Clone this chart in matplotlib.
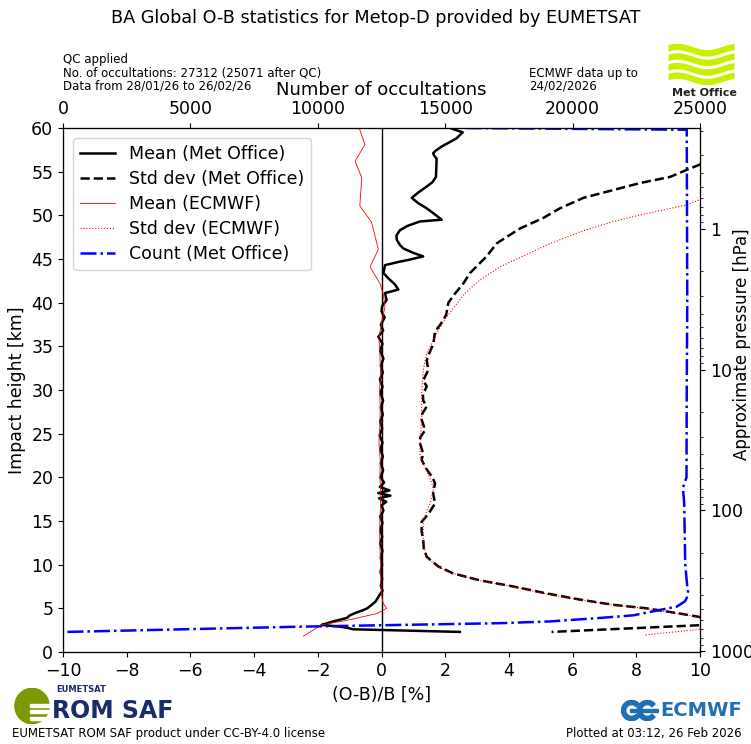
import numpy as np
import matplotlib.pyplot as plt
from matplotlib.patches import Wedge, Ellipse, Rectangle
from matplotlib.ticker import FixedLocator, FuncFormatter, LogLocator, NullFormatter

# Mean (Met Office), O-B/B [%] against impact height [km]
mo_mean_z = [60.0, 59.5, 58.8, 57.9, 57.4, 57.1, 56.8, 56.5, 55.4, 54.4, 53.8, 53.3, 52.6,
             52.0, 51.4, 50.8, 50.1, 49.5, 49.3, 48.8, 48.3, 47.7, 47.2, 46.6, 46.2, 45.7,
             45.3, 44.9, 44.7, 44.3, 43.4, 42.8, 42.1, 41.5, 41.1, 40.3, 39.6, 39.0,
             38.3, 37.5, 36.8, 36.1, 35.3, 34.5, 33.6, 32.8, 32.0, 31.2, 30.4, 29.6, 28.8,
             28.0, 27.2, 26.4, 25.6, 24.8, 24.0, 23.2, 22.4, 21.6, 20.8, 20.0, 19.4, 18.9,
             18.5, 18.2, 17.9, 17.6, 17.2, 16.8, 16.2, 15.5, 14.8, 14.0, 13.2, 12.4, 11.6,
             10.8, 10.0, 9.2, 8.4, 7.6, 7.0, 6.6, 6.3, 5.8, 5.4, 5.0, 4.8, 4.5, 4.2, 3.9,
             3.7, 3.5, 3.3, 3.1, 2.9, 2.75, 2.6, 2.3]
mo_mean = [2.15, 2.55, 2.35, 1.9, 1.7, 1.62, 1.66, 1.73, 1.72, 1.71, 1.6, 1.42, 1.15,
           0.95, 1.15, 1.42, 1.68, 1.89, 1.21, 0.82, 0.58, 0.47, 0.48, 0.58, 0.69, 1.0,
           1.31, 0.85, 0.58, 0.11, 0.06, 0.21, 0.42, 0.53, 0.11, 0.16, 0.02, 0.0,
           0.10, -0.02, 0.05, -0.10, 0.03, -0.04, 0.06, -0.02, 0.04, -0.05, 0.03, -0.03, 0.05,
           -0.02, 0.04, -0.04, 0.02, -0.06, 0.03, -0.03, 0.04, -0.02, 0.05, -0.03, 0.08, -0.05,
           0.25, -0.10, 0.28, -0.08, 0.15, 0.0, 0.06, -0.04, 0.03, -0.03, 0.02, -0.04, 0.03,
           -0.02, 0.02, -0.03, 0.02, -0.02, 0.03, -0.05, -0.10, -0.18, -0.31, -0.45, -0.57,
           -0.80, -0.99, -1.09, -1.30, -1.52, -1.70, -1.88, -1.30, -1.05, -0.89, 2.46]

# Std dev (Met Office)
mo_std_z = [57.0, 55.2, 54.4, 53.7, 52.9, 52.0, 50.8, 49.7, 48.5, 46.8, 45.3, 43.4, 42.2,
            41.0, 40.0, 38.6, 37.5, 36.7, 35.3, 34.2, 33.4, 32.3, 31.1, 30.4, 29.5, 28.8,
            28.1, 27.3, 26.6, 25.4, 24.6, 23.9, 22.7, 22.0, 21.0, 20.0, 19.3, 18.2, 17.0,
            15.8, 14.9, 13.8, 12.8, 11.8, 10.9, 9.8, 9.0, 8.2, 7.5, 6.7, 6.0, 5.4, 5.0, 4.4,
            4.0, 3.6, 3.07, 2.3]
mo_std = [10.8, 9.58, 9.06, 8.12, 7.28, 6.34, 5.60, 5.08, 4.35, 3.62, 3.30, 2.78, 2.57,
          2.30, 2.10, 2.03, 1.85, 1.68, 1.63, 1.50, 1.42, 1.47, 1.31, 1.42, 1.30, 1.31,
          1.42, 1.28, 1.26, 1.37, 1.22, 1.21, 1.31, 1.26, 1.40, 1.60, 1.68, 1.62, 1.68,
          1.47, 1.26, 1.26, 1.31, 1.33, 1.42, 1.78, 2.25, 3.09, 4.14, 5.19, 6.23, 7.28, 8.32,
          9.37, 10.0, 13.0, 10.0, 5.34]

# Mean (ECMWF)
ec_mean_z = [60.0, 58.1, 56.2, 54.3, 51.1, 49.2, 46.1, 44.1, 42.2, 40.9, 39.5, 38.0, 36.0,
             34.0, 32.0, 30.0, 28.0, 26.0, 24.0, 22.0, 20.0, 18.0, 16.0, 14.0, 12.0, 10.0,
             8.0, 6.5, 5.6, 5.0, 4.4, 3.7, 3.1, 1.8]
ec_mean = [-0.70, -0.52, -0.83, -0.62, -0.68, -0.31, -0.10, -0.36, -0.05, 0.06, 0.11, 0.02,
           -0.08, -0.05, -0.03, -0.06, -0.04, -0.05, -0.08, -0.04, -0.05, -0.02, -0.04, -0.06,
           -0.05, -0.03, -0.02, 0.0, 0.05, 0.16, -0.15, -0.99, -1.88, -2.46]

# Std dev (ECMWF)
ec_std_z = [57.0, 51.8, 51.2, 50.2, 49.3, 48.1, 46.6, 44.1, 42.6, 41.0, 38.4, 36.5, 34.2,
            32.3, 29.6, 27.0, 23.5, 22.4, 20.5, 19.3, 18.5, 17.0, 15.1, 12.8, 10.9, 9.8, 9.0,
            8.2, 7.5, 6.7, 6.0, 5.4, 5.0, 4.4, 4.0, 3.6, 2.6, 1.95]
ec_std = [13.0, 10.0, 9.58, 8.32, 7.28, 6.23, 5.19, 3.72, 3.09, 2.60, 2.05, 1.73, 1.42,
          1.31, 1.26, 1.26, 1.21, 1.21, 1.45, 1.58, 1.63, 1.52, 1.31, 1.31, 1.40, 1.75, 2.22,
          3.05, 4.08, 5.12, 6.15, 7.20, 8.25, 9.30, 9.95, 12.0, 10.0, 8.27]

# Count (Met Office), number of occultations
cnt_z = [60.0, 59.8, 50.0, 40.0, 30.0, 20.0, 18.8, 17.0, 10.0, 7.5, 7.1, 6.2, 5.8, 5.2,
         4.7, 4.2, 3.9, 3.5, 3.3, 3.1, 2.9, 2.3]
cnt = [15800, 24480, 24490, 24500, 24480, 24470, 24330, 24380, 24420, 24500, 24540, 24480,
       24410, 24090, 23230, 22385, 21080, 19110, 17150, 13230, 9300, 150]

x_ticks = [-10, -8, -6, -4, -2, 0, 2, 4, 6, 8, 10]
cnt_ticks = [0, 5000, 10000, 15000, 20000, 25000]
z_ticks = [0, 5, 10, 15, 20, 25, 30, 35, 40, 45, 50, 55, 60]
p_ticks = [1, 10, 100, 1000]

W, H = 751, 744
FS = 12.5


def fx(px):
    return px / W


def fy(py):
    return 1 - py / H


def z2p(z):
    return 1013.25 * np.exp(-np.asarray(z, dtype=float) / 7.0)


fig = plt.figure(figsize=(W / 100, H / 100), dpi=100)
ax = fig.add_axes([fx(63), fy(652), 637 / W, 524 / H])

ax.axvline(0, color='k', lw=1)
l1, = ax.plot(mo_mean, mo_mean_z, color='k', lw=1.8, label='Mean (Met Office)')
l2, = ax.plot(mo_std, mo_std_z, color='k', lw=1.8, ls='--', label='Std dev (Met Office)')
l3, = ax.plot(ec_mean, ec_mean_z, color='red', lw=0.6, label='Mean (ECMWF)')
l4, = ax.plot(ec_std, ec_std_z, color='red', lw=0.8, ls=':', label='Std dev (ECMWF)')
ax.set_xlim(-10, 10)
ax.set_ylim(0, 60)
ax.set_xticks(x_ticks)
ax.set_yticks(z_ticks)
ax.tick_params(labelsize=FS)
ax.set_xlabel('(O-B)/B [%]', fontsize=FS)
ax.set_ylabel('Impact height [km]', fontsize=FS)

ax_c = ax.twiny()
l5, = ax_c.plot(cnt, cnt_z, color='blue', lw=1.8, ls='-.', label='Count (Met Office)')
ax_c.set_xlim(0, 25000)
ax_c.set_xticks(cnt_ticks)
ax_c.tick_params(labelsize=FS)
ax_c.set_xlabel('Number of occultations', fontsize=13)

ax_p = ax.twinx()
ax_p.set_yscale('log')
ax_p.set_ylim(z2p(0), z2p(60))
ax_p.yaxis.set_major_locator(FixedLocator(p_ticks))
ax_p.yaxis.set_major_formatter(FuncFormatter(lambda v, pos: '%d' % v))
ax_p.yaxis.set_minor_locator(LogLocator(base=10, subs=np.arange(2, 10)))
ax_p.yaxis.set_minor_formatter(NullFormatter())
ax_p.tick_params(labelsize=FS)
ax_p.set_ylabel('Approximate pressure [hPa]', fontsize=12)
ax_p.yaxis.set_label_coords(1.052, 0.588)

ax_p.legend(handles=[l1, l2, l3, l4, l5], loc='upper left', fontsize=12.5,
            bbox_to_anchor=(0.0, 1.0), borderaxespad=0.6, labelspacing=0.4)

# header texts
fig.text(0.5, fy(18), 'BA Global O-B statistics for Metop-D provided by EUMETSAT',
         ha='center', va='center', fontsize=12.7)
fig.text(fx(63), fy(60), 'QC applied', fontsize=8.5, va='center')
fig.text(fx(63), fy(73), 'No. of occultations: 27312 (25071 after QC)', fontsize=8.5, va='center')
fig.text(fx(63), fy(86), 'Data from 28/01/26 to 26/02/26', fontsize=8.5, va='center')
fig.text(fx(529), fy(73), 'ECMWF data up to', fontsize=8.5, va='center')
fig.text(fx(529), fy(86), '24/02/2026', fontsize=8.5, va='center')

# footer texts
fig.text(fx(12), fy(733), 'EUMETSAT ROM SAF product under CC-BY-4.0 license', fontsize=8.5, va='center')
fig.text(fx(742), fy(733), 'Plotted at 03:12, 26 Feb 2026', fontsize=8.5, va='center', ha='right')

# Met Office logo
lg = fig.add_axes([fx(668), fy(84), 66 / W, 40 / H])
lg.set_xlim(0, 1)
lg.set_ylim(0, 1)
lg.axis('off')
xs = np.linspace(0, 1, 60)
for k in range(4):
    base = 0.06 + k * 0.24
    wave = base + 0.08 * np.sin(2 * np.pi * (xs * 1.1 + 0.1))
    lg.fill_between(xs, wave, wave + 0.16, color='#c8f000', lw=0)
fig.text(fx(704), fy(93), 'Met Office', fontsize=8, fontweight='bold', ha='center',
         va='center', color='#222222')

# ROM SAF logo
rs = fig.add_axes([fx(14), fy(724), 36 / W, 36 / H])
rs.set_xlim(0, 1)
rs.set_ylim(0, 1)
rs.axis('off')
rs.add_patch(Ellipse((0.5, 0.5), 0.95, 0.98, color='#7a9a01'))
rs.add_patch(Rectangle((0.45, 0.3), 0.6, 0.08, color='white'))
rs.add_patch(Rectangle((0.45, 0.48), 0.6, 0.08, color='white'))
rs.add_patch(Rectangle((0.45, 0.12), 0.6, 0.08, color='white'))
fig.text(fx(56), fy(690), 'EUMETSAT', fontsize=6, fontweight='bold', color='#1b2a6b', va='center')
fig.text(fx(52), fy(711), 'ROM SAF', fontsize=17, fontweight='bold', color='#1b2a6b', va='center')

# ECMWF logo
ec = fig.add_axes([fx(621), fy(721), 38 / W, 21 / H])
ec.set_xlim(0, 1.8)
ec.set_ylim(0, 1)
ec.set_aspect('equal')
ec.axis('off')
ec.add_patch(Wedge((0.5, 0.5), 0.48, 40, 320, width=0.2, color='#1f6fb5'))
ec.add_patch(Wedge((1.25, 0.5), 0.48, 40, 320, width=0.2, color='#1f6fb5'))
ec.add_patch(Rectangle((0.4, 0.42), 1.35, 0.16, color='#1f6fb5'))
fig.text(fx(660), fy(711), 'ECMWF', fontsize=14, fontweight='bold', color='#1f6fb5', va='center')

fig.savefig('out.png', dpi=100)
